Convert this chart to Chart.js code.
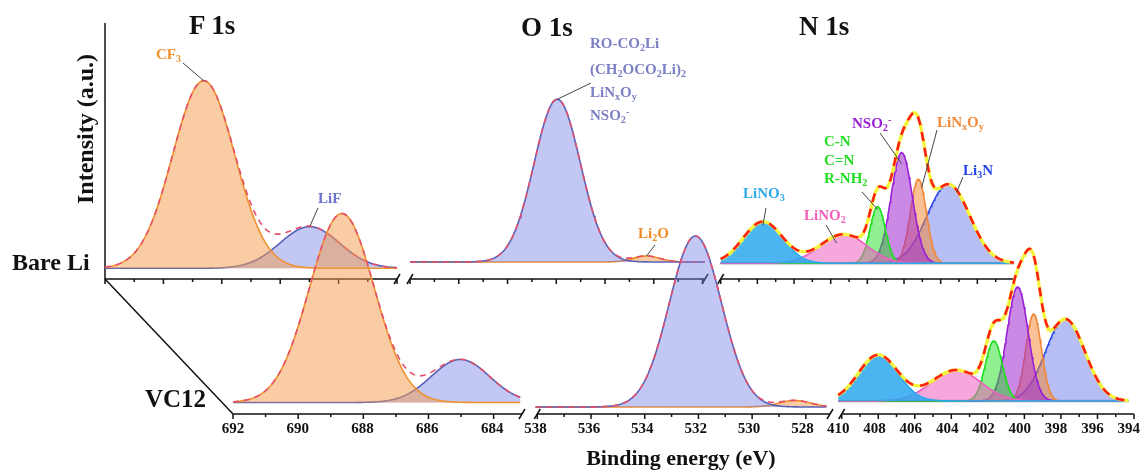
<!DOCTYPE html>
<html>
<head>
<meta charset="utf-8">
<script src="https://cdn.jsdelivr.net/npm/chart.js@4.4.1/dist/chart.umd.min.js"></script>
<style>
  html, body { margin: 0; padding: 0; background: #fff; }
  #wrap { position: relative; width: 1146px; height: 470px; overflow: hidden;
          font-family: "Liberation Serif", "Times New Roman", serif; font-weight: bold; color: #111; }
  #wrap canvas { position: absolute; left: 0; top: 0; }
  .t { position: absolute; white-space: nowrap; line-height: 1; transform: translateY(-50%); }
  .t sub { font-size: 68%; vertical-align: baseline; position: relative; top: 0.3em; }
  .t sup { font-size: 68%; vertical-align: baseline; position: relative; top: -0.5em; }
  .lab { font-size: 15px; }
  .nlab { font-size: 15px; }
  .big { font-size: 27px; }
</style>
</head>
<body>
<div id="wrap">
  <canvas id="back" width="1146" height="470"></canvas>
  <canvas id="front" width="1146" height="470"></canvas>

  <div class="t big" style="left:189px; top:25px;">F 1s</div>
  <div class="t big" style="left:521px; top:27px;">O 1s</div>
  <div class="t big" style="left:799px; top:26px;">N 1s</div>
  <div class="t" style="left:85px; top:129px; font-size:24px; transform:translate(-50%,-50%) rotate(-90deg);">Intensity (a.u.)</div>
  <div class="t" style="left:12px; top:262px; font-size:24px;">Bare Li</div>
  <div class="t" style="left:145px; top:398px; font-size:25px;">VC12</div>

  <div class="t lab" style="left:156px; top:54px; color:#f0922e;">CF<sub>3</sub></div>
  <div class="t lab" style="left:318px; top:198px; color:#6b72c8;">LiF</div>
  <div class="t lab" style="left:590px; top:43px; color:#7b80c4;">RO-CO<sub>2</sub>Li</div>
  <div class="t lab" style="left:590px; top:69px; color:#7b80c4;">(CH<sub>2</sub>OCO<sub>2</sub>Li)<sub>2</sub></div>
  <div class="t lab" style="left:590px; top:92px; color:#7b80c4;">LiN<sub>x</sub>O<sub>y</sub></div>
  <div class="t lab" style="left:590px; top:115px; color:#7b80c4;">NSO<sub>2</sub><sup>-</sup></div>
  <div class="t lab" style="left:638px; top:233px; color:#f08a2a;">Li<sub>2</sub>O</div>

  <div class="t nlab" style="left:743px; top:193px; color:#2fa8e8;">LiNO<sub>3</sub></div>
  <div class="t nlab" style="left:804px; top:215px; color:#f060b8;">LiNO<sub>2</sub></div>
  <div class="t nlab" style="left:824px; top:141px; color:#22dd22;">C-N</div>
  <div class="t nlab" style="left:824px; top:160px; color:#22dd22;">C=N</div>
  <div class="t nlab" style="left:824px; top:178px; color:#22dd22;">R-NH<sub>2</sub></div>
  <div class="t nlab" style="left:852px; top:123px; color:#9a1fd0;">NSO<sub>2</sub><sup>-</sup></div>
  <div class="t nlab" style="left:937px; top:122px; color:#f08a3a;">LiN<sub>x</sub>O<sub>y</sub></div>
  <div class="t nlab" style="left:963px; top:170px; color:#2846e6;">Li<sub>3</sub>N</div>
</div>

<script>
// ---- fitted peak components (centre eV, height a.u., sigma eV) ----
const regions = ['F 1s', 'O 1s', 'N 1s'];
const f1sPeaks = ['CF3', 'LiF'];
const o1sPeaks = ['RO-CO2Li / (CH2OCO2Li)2 / LiNxOy / NSO2-', 'Li2O'];
const n1sPeaks = ['LiNO3', 'LiNO2', 'C-N / C=N / R-NH2', 'NSO2-', 'LiNxOy', 'Li3N'];

// Bare Li
const bareF1sCenter = [688.62, 684.99];
const bareF1sHeight = [187.6, 41.6];
const bareF1sSigma  = [1.06, 1.02];
const bareO1sCenter = [531.96, 528.3];
const bareO1sHeight = [162.7, 6];
const bareO1sSigma  = [0.95, 0.55];
const bareN1sCenter = [407.7, 403.3, 401.44, 400.13, 399.22, 397.58];
const bareN1sHeight = [41.6, 29, 56.6, 110.6, 84, 79];
const bareN1sSigma  = [1.08, 1.27, 0.42, 0.58, 0.44, 1.16];
const bareBackground = [10.7, 17, 15.7];

// VC12
const vcF1sCenter = [688.64, 684.98];
const vcF1sHeight = [189, 43];
const vcF1sSigma  = [1.0, 0.9];
const vcO1sCenter = [532.01, 528.29];
const vcO1sHeight = [171, 6.5];
const vcO1sSigma  = [0.98, 0.6];
const vcN1sCenter = [407.8, 403.5, 401.43, 400.12, 399.24, 397.5];
const vcN1sHeight = [46, 31, 60, 114, 87, 82];
const vcN1sSigma  = [1.09, 1.35, 0.47, 0.58, 0.43, 1.08];
const vcBackground = [11.5, 7, 13];

// ---- broken energy axes: each region mapped onto its own stretch of the x scale ----
const frontAxis = [
  { hi: 692, lo: 683.13, from: 0, to: 289 },
  { hi: 538, lo: 527.1, from: 304.3, to: 597 },
  { hi: 410, lo: 394, from: 608.7, to: 901 }
];
const backAxis = [
  { hi: 692, lo: 682, from: 0, to: 292 },
  { hi: 538, lo: 525.9, from: 305, to: 600 },
  { hi: 410, lo: 394, from: 615.7, to: 909 }
];

const serif = "'Liberation Serif', 'Times New Roman', serif";

const orange = { line: '#f0922e', fill: 'rgba(243,154,74,0.5)' };
const lavender = { line: '#5a62b8', fill: 'rgba(120,130,230,0.45)' };
const regionStyles = [
  [orange, lavender],
  [lavender, { line: '#f08a2a', fill: 'rgba(243,154,74,0.5)' }],
  [
    { line: '#2aa8ee', fill: 'rgba(42,168,238,0.85)' },
    { line: '#ef5ec0', fill: 'rgba(239,94,192,0.55)' },
    { line: '#1ee01e', fill: 'rgba(34,224,34,0.5)' },
    { line: '#9a1fd6', fill: 'rgba(160,40,210,0.55)' },
    { line: '#f0893a', fill: 'rgba(242,140,60,0.55)' },
    { line: '#2a48e8', fill: 'rgba(110,125,235,0.5)' }
  ]
];

function uAt(seg, E) {
  return seg.from + (seg.hi - E) / (seg.hi - seg.lo) * (seg.to - seg.from);
}
function energyAt(axis, u) {
  for (const s of axis) {
    if (u >= s.from - 0.5 && u <= s.to + 0.5) return s.hi - (u - s.from) / (s.to - s.from) * (s.hi - s.lo);
  }
  return null;
}
function gauss(E, c, h, w) {
  return h * Math.exp(-0.5 * ((E - c) / w) ** 2);
}

function buildSample(axis, centers, heights, sigmas, bgs) {
  const top = [], comps = [], bottom = [];
  axis.forEach((seg, r) => {
    const n = Math.round((seg.hi - seg.lo) / 0.04);
    const energies = [];
    for (let i = 0; i <= n; i++) energies.push(seg.hi - (seg.hi - seg.lo) * i / n);
    const sum = energies.map(() => bgs[r]);
    centers[r].forEach((c, k) => {
      const st = regionStyles[r][k];
      const pts = energies.map((E, i) => {
        const v = gauss(E, c, heights[r][k], sigmas[r][k]);
        sum[i] += v;
        return { x: uAt(seg, E), y: bgs[r] + v };
      });
      comps.push({
        data: pts, borderColor: st.line, backgroundColor: st.fill,
        borderWidth: 1.6, fill: { value: bgs[r] }
      });
    });
    const env = energies.map((E, i) => ({ x: uAt(seg, E), y: sum[i] }));
    if (r === 2) {
      top.push({ data: env, borderColor: '#ff1e1e', borderWidth: 2.6, borderDash: [9, 7], fill: false });
      top.push({ data: env, borderColor: '#f4f43a', borderWidth: 3.2, fill: false });
      bottom.push({
        data: [{ x: seg.from, y: bgs[r] }, { x: seg.to, y: bgs[r] }],
        borderColor: '#a8a8a8', borderWidth: 2.5, fill: false
      });
    } else {
      top.push({ data: env, borderColor: '#e4506a', borderWidth: 1.6, borderDash: [6, 5], fill: false });
    }
  });
  return [...top, ...comps, ...bottom];
}

function axisDecor(id, axis, withDiagonal) {
  return {
    id,
    beforeDatasetsDraw(chart) {
      const { ctx, chartArea } = chart;
      const x0 = chartArea.left, y0 = chartArea.bottom;
      ctx.save();
      ctx.strokeStyle = '#111';
      ctx.lineWidth = 1.5;
      axis.forEach((seg, i) => {
        ctx.beginPath();
        ctx.moveTo(x0 + seg.from, y0);
        ctx.lineTo(x0 + seg.to, y0);
        ctx.stroke();
        const ends = [];
        if (i > 0) ends.push(seg.from);
        if (i < axis.length - 1) ends.push(seg.to);
        ends.forEach((u) => {
          ctx.beginPath();
          ctx.moveTo(x0 + u - 3, y0 + 5);
          ctx.lineTo(x0 + u + 3, y0 - 5);
          ctx.stroke();
        });
        for (let E = Math.floor(seg.hi); E >= Math.ceil(seg.lo); E--) {
          const x = x0 + uAt(seg, E);
          ctx.beginPath();
          ctx.moveTo(x, y0);
          ctx.lineTo(x, y0 + (E % 2 === 0 ? 5 : 3));
          ctx.stroke();
        }
      });
      if (withDiagonal) {
        ctx.beginPath();
        ctx.moveTo(105, 279);
        ctx.lineTo(x0, y0);
        ctx.stroke();
      } else {
        ctx.beginPath();
        ctx.moveTo(x0, chartArea.top);
        ctx.lineTo(x0, y0);
        ctx.stroke();
      }
      ctx.restore();
    }
  };
}

// leader lines from labels to Bare Li peaks: [labelX, labelY, region, peak, dE, fraction of height]
const leaders = [
  [183, 63, 0, 0, 0, 1], [318, 208, 0, 1, 0, 1],
  [591, 83, 1, 0, 0, 1], [655, 245, 1, 1, 0, 1],
  [766, 208, 2, 0, 0, 0.92], [826, 225, 2, 1, 0.38, 0.7], [862, 192, 2, 2, 0, 0.95],
  [880, 133, 2, 3, 0, 0.9], [937, 130, 2, 4, -0.18, 0.9], [963, 177, 2, 5, -0.45, 0.9]
];
const bareCenters = [bareF1sCenter, bareO1sCenter, bareN1sCenter];
const bareHeights = [bareF1sHeight, bareO1sHeight, bareN1sHeight];
const leaderPlugin = {
  id: 'leaders',
  afterDatasetsDraw(chart) {
    const { ctx, scales } = chart;
    ctx.save();
    ctx.strokeStyle = '#444';
    ctx.lineWidth = 1;
    leaders.forEach(([lx, ly, r, k, dE, f]) => {
      const E = bareCenters[r][k] + dE;
      const x = scales.x.getPixelForValue(uAt(backAxis[r], E));
      const y = scales.y.getPixelForValue(bareBackground[r] + f * bareHeights[r][k]);
      ctx.beginPath();
      ctx.moveTo(lx, ly);
      ctx.lineTo(x, y);
      ctx.stroke();
    });
    ctx.restore();
  }
};

const common = {
  responsive: false,
  animation: false,
  events: [],
  elements: { point: { radius: 0 }, line: { tension: 0 } },
  plugins: { legend: { display: false }, tooltip: { enabled: false } }
};

new Chart(document.getElementById('back'), {
  type: 'line',
  data: {
    datasets: buildSample(backAxis,
      [bareF1sCenter, bareO1sCenter, bareN1sCenter],
      [bareF1sHeight, bareO1sHeight, bareN1sHeight],
      [bareF1sSigma, bareO1sSigma, bareN1sSigma], bareBackground)
  },
  options: {
    ...common,
    layout: { padding: { left: 105, right: 132, top: 23, bottom: 191 } },
    scales: {
      x: { type: 'linear', display: false, min: 0, max: 909 },
      y: { display: false, min: 0, max: 256 }
    }
  },
  plugins: [axisDecor('backAxis', backAxis, false), leaderPlugin]
});

new Chart(document.getElementById('front'), {
  type: 'line',
  data: {
    datasets: buildSample(frontAxis,
      [vcF1sCenter, vcO1sCenter, vcN1sCenter],
      [vcF1sHeight, vcO1sHeight, vcN1sHeight],
      [vcF1sSigma, vcO1sSigma, vcN1sSigma], vcBackground)
  },
  options: {
    ...common,
    layout: { padding: { left: 233, right: 12, top: 0, bottom: 0 } },
    scales: {
      x: {
        type: 'linear', min: 0, max: 901,
        grid: { display: false, drawTicks: false },
        border: { display: false },
        afterBuildTicks: (scale) => {
          const t = [];
          frontAxis.forEach((seg) => {
            for (let E = seg.hi; E >= seg.lo; E -= 2) t.push({ value: uAt(seg, E) });
          });
          scale.ticks = t;
        },
        afterFit: (scale) => { scale.height = 56; },
        ticks: {
          autoSkip: false, maxRotation: 0, padding: 6, color: '#111',
          font: { family: serif, weight: 'bold', size: 15 },
          callback: (v) => String(Math.round(energyAt(frontAxis, v)))
        },
        title: {
          display: true, text: 'Binding energy (eV)', color: '#111', padding: { top: -3, bottom: -3 },
          font: { family: serif, weight: 'bold', size: 22 }
        }
      },
      y: { display: false, min: 0, max: 414 }
    }
  },
  plugins: [axisDecor('frontAxis', frontAxis, true)]
});
</script>
</body>
</html>
